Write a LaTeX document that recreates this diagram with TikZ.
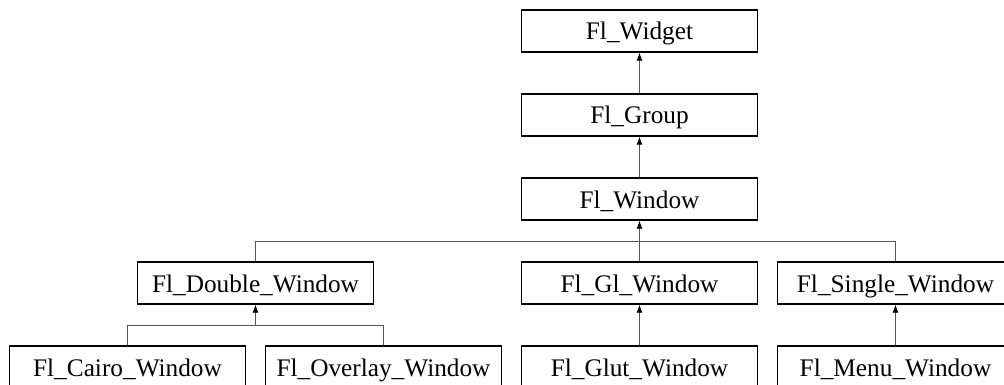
\documentclass[tikz,border=0pt]{standalone}
\usepackage{fontspec}
\setmainfont{Liberation Serif}
\usetikzlibrary{positioning, arrows.meta}
\definecolor{Dark}{HTML}{000000}
\definecolor{Wire}{HTML}{555555}
\tikzset{
    classnode/.style={rectangle, draw=Dark, line width=1.4pt, fill=white, minimum width=236pt, minimum height=42pt, inner sep=0pt, text height=22pt, text depth=4pt, font=\fontsize{25.3}{30}\selectfont},
    wire/.style={color=Wire, line width=0.9pt},
    arrow/.style={wire, -{Latex[length=8pt, width=6pt, color=Dark]}},
}

\begin{document}
\begin{tikzpicture}[x=1pt, y=-1pt]
    \clip (0,0) rectangle (1004,385);

    % --- catena principale ---
    \node[classnode] (widget) at (639.5, 31) {Fl\_Widget};
    \node[classnode] (group) at (639.5, 115) {Fl\_Group};
    \node[classnode] (window) at (639.5, 199) {Fl\_Window};

    % --- secondo livello ---
    \node[classnode] (double) at (255.5, 283) {Fl\_Double\_Window};
    \node[classnode] (gl) at (639.5, 283) {Fl\_Gl\_Window};
    \node[classnode] (single) at (895.5, 283) {Fl\_Single\_Window};

    % --- terzo livello ---
    \node[classnode] (cairo) at (127.5, 367) {Fl\_Cairo\_Window};
    \node[classnode] (overlay) at (383.5, 367) {Fl\_Overlay\_Window};
    \node[classnode] (glut) at (639.5, 367) {Fl\_Glut\_Window};
    \node[classnode] (menu) at (895.5, 367) {Fl\_Menu\_Window};

    % Punti di raccordo
    \coordinate (buswin) at (639.5, 241);
    \coordinate (busdbl) at (255.5, 325);

    % Ereditarieta
    \draw[arrow] (group) -- (widget);
    \draw[arrow] (window) -- (group);

    \draw[wire] (double.north) |- (buswin);
    \draw[wire] (single.north) |- (buswin);
    \draw[arrow] (gl) -- (window);

    \draw[wire] (cairo.north) |- (busdbl);
    \draw[wire] (overlay.north) |- (busdbl);
    \draw[arrow] (busdbl) -- (double);

    \draw[arrow] (glut) -- (gl);
    \draw[arrow] (menu) -- (single);
\end{tikzpicture}
\end{document}
